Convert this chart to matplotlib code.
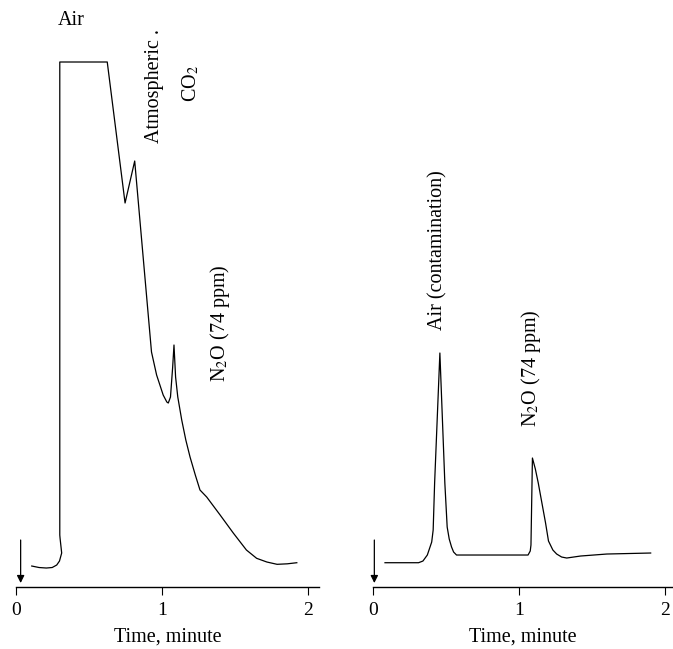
import matplotlib.pyplot as plt

plt.rcParams['font.family'] = ['Liberation Serif', 'DejaVu Serif']
plt.rcParams['mathtext.fontset'] = 'stix'

# Chromatogram A (left): time in minutes, detector signal in arbitrary units
time_a = [0.11, 0.16, 0.21, 0.25, 0.281, 0.30, 0.315, 0.304, 0.302, 0.302, 0.627,
          0.749, 0.815, 0.93, 0.965, 1.01, 1.035, 1.045, 1.06, 1.075, 1.084,
          1.095, 1.11, 1.137, 1.165, 1.194, 1.23, 1.262, 1.308, 1.40, 1.49,
          1.58, 1.65, 1.72, 1.79, 1.86, 1.925]
signal_a = [21, 19.5, 19, 19.5, 22, 26, 34, 48.7, 52, 525, 525,
            384, 426, 235, 212, 192, 185, 184, 190, 220, 242,
            210, 190, 167, 147, 130, 112, 97, 90, 72, 54,
            37, 28.7, 25, 22.7, 23.2, 24.3]

# Chromatogram B (right)
time_b = [0.08, 0.31, 0.34, 0.37, 0.40, 0.41, 0.42, 0.456, 0.49, 0.506, 0.52,
          0.536, 0.55, 0.57, 1.06, 1.075, 1.08, 1.09, 1.11, 1.13, 1.155, 1.18,
          1.20, 1.23, 1.256, 1.29, 1.325, 1.42, 1.60, 1.90]
signal_b = [24.3, 24.3, 26, 32, 45, 57, 104, 234, 104, 60, 48,
            40, 35, 32, 32, 36, 42, 129, 118, 104, 84, 64,
            46, 37, 33, 30, 29, 31, 33, 34]

ticks = [0, 1, 2]
tick_labels = ['0', '1', '2']

# peak labels: (text, time, signal, rotation)
labels_a = [('Air', 0.382, 567, 0),
            ('Atmospheric .', 0.95, 444, 90),
            ('CO$_2$', 1.20, 485, 90),
            ('N$_2$O (74 ppm)', 1.40, 205, 90)]
labels_b = [('Air (contamination)', 0.443, 257, 90),
            ('N$_2$O (74 ppm)', 1.08, 160, 90)]

fig = plt.figure(figsize=(6.73, 6.49), dpi=100)
ax1 = fig.add_axes([0.0233, 0.0955, 0.4507, 0.9045])
ax2 = fig.add_axes([0.5547, 0.0955, 0.4453, 0.9045])


def style_axis(ax, xmax, arrow_t):
    for side in ['left', 'top', 'right']:
        ax.spines[side].set_visible(False)
    ax.spines['bottom'].set_linewidth(1.0)
    ax.set_xlim(0, xmax)
    ax.set_ylim(0, 587)
    ax.set_yticks([])
    ax.set_xticks(ticks)
    ax.set_xticklabels(tick_labels)
    ax.tick_params(axis='x', direction='out', length=6, width=0.8,
                   labelsize=14, pad=5)
    ax.set_xlabel('Time, minute', fontsize=14.5, labelpad=6)
    ax.patch.set_alpha(0)
    # injection arrow
    ax.annotate('', xy=(arrow_t, 4), xytext=(arrow_t, 47),
                arrowprops=dict(arrowstyle='-|>', color='black', lw=0.9,
                                mutation_scale=11, shrinkA=0, shrinkB=0))


ax1.plot(time_a, signal_a, color='black', lw=0.9)
style_axis(ax1, 2.077, 0.034)
for text, t, s, rot in labels_a:
    if rot == 0:
        ax1.text(t, s, text, ha='center', va='center', fontsize=14.5)
    else:
        ax1.text(t, s, text, ha='center', va='bottom', rotation=rot,
                 fontsize=14.5)

ax2.plot(time_b, signal_b, color='black', lw=0.9)
style_axis(ax2, 2.053, 0.007)
for text, t, s, rot in labels_b:
    ax2.text(t, s, text, ha='center', va='bottom', rotation=rot, fontsize=14.5)

fig.savefig('out.png', dpi=100)
